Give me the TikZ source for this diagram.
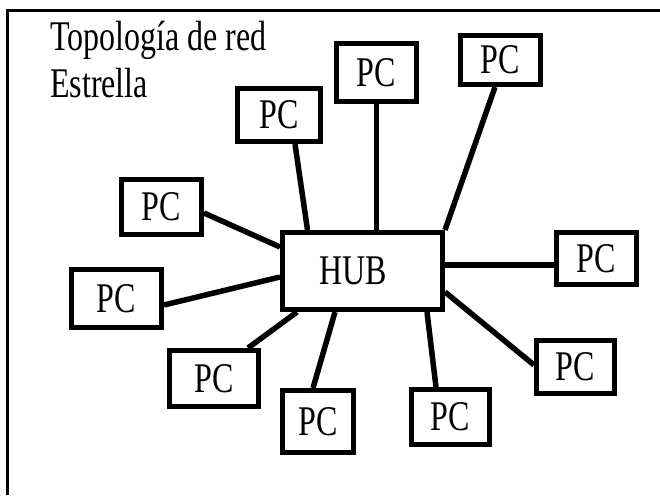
\documentclass[tikz,border=0pt]{standalone}
\usepackage{fontspec}
\usepackage{graphicx}
\setmainfont{Liberation Serif}
\newcommand{\tallt}[1]{\scalebox{1}[1.32]{#1}}
\tikzset{
  pcbox/.style={draw=black, fill=white, line width=5pt, inner sep=0pt,
    font=\fontsize{32}{38}\selectfont},
  link/.style={line width=5.5pt, line cap=butt},
  titletext/.style={inner sep=0pt, anchor=base west, font=\fontsize{32}{38}\selectfont}
}
\begin{document}
\begin{tikzpicture}[x=1pt,y=-1pt]
\useasboundingbox (0,0) rectangle (660,495);
% frame (open at right and bottom)
\draw[line width=2.5pt] (7.5,495) -- (7.5,10.5) -- (660,10.5);
% title
\node[titletext] (t1) at (50,50) {\tallt{Topología de red}};
\node[titletext] (t2) at (50,97) {\tallt{Estrella}};
% nodes
\node[pcbox, minimum width=160pt, minimum height=77pt] (hub) at (362.5,271) {\hspace*{-18pt}\tallt{HUB}};
\node[pcbox, minimum width=83pt, minimum height=53pt] (b1) at (279,115) {\tallt{PC}};
\node[pcbox, minimum width=80pt, minimum height=55pt] (b2) at (161.5,207) {\tallt{PC}};
\node[pcbox, minimum width=80pt, minimum height=58pt] (b3) at (376.5,72.5) {\tallt{PC}};
\node[pcbox, minimum width=80pt, minimum height=49pt] (b4) at (500.5,60) {\tallt{PC}};
\node[pcbox, minimum width=80pt, minimum height=52pt] (r) at (596.5,258.5) {\tallt{PC}};
\node[pcbox, minimum width=78pt, minimum height=53pt] (lr) at (575.5,367) {\tallt{PC}};
\node[pcbox, minimum width=78pt, minimum height=55pt] (b5) at (450.5,417) {\tallt{PC}};
\node[pcbox, minimum width=71pt, minimum height=62pt] (b6) at (318,421.5) {\tallt{PC}};
\node[pcbox, minimum width=89pt, minimum height=56pt] (ll) at (214,378.5) {\tallt{PC}};
\node[pcbox, minimum width=90pt, minimum height=58pt] (l) at (116.5,298.5) {\tallt{PC}};
% connectors
\draw[link] ([xshift=16pt]b1.south) -- ([xshift=-55pt]hub.north);
\draw[link] ([yshift=-6pt]b2.east) -- ([yshift=24pt]hub.west);
\draw[link] (b3.south) -- ([xshift=14pt]hub.north);
\draw[link] ([xshift=-5.5pt]b4.south) -- (hub.north east);
\draw[link] ([yshift=-6.5pt]r.west) -- ([yshift=6pt]hub.east);
\draw[link] ([yshift=2pt]lr.west) -- ([yshift=-21pt]hub.east);
\draw[link] ([xshift=-14.5pt]b5.north) -- ([xshift=64.5pt]hub.south);
\draw[link] ([xshift=-5pt]b6.north) -- ([xshift=-27.5pt]hub.south);
\draw[link] ([xshift=34pt]ll.north) -- ([xshift=-65.5pt]hub.south);
\draw[link] ([yshift=-6.5pt]l.east) -- ([yshift=-6pt]hub.west);
\end{tikzpicture}
\end{document}
